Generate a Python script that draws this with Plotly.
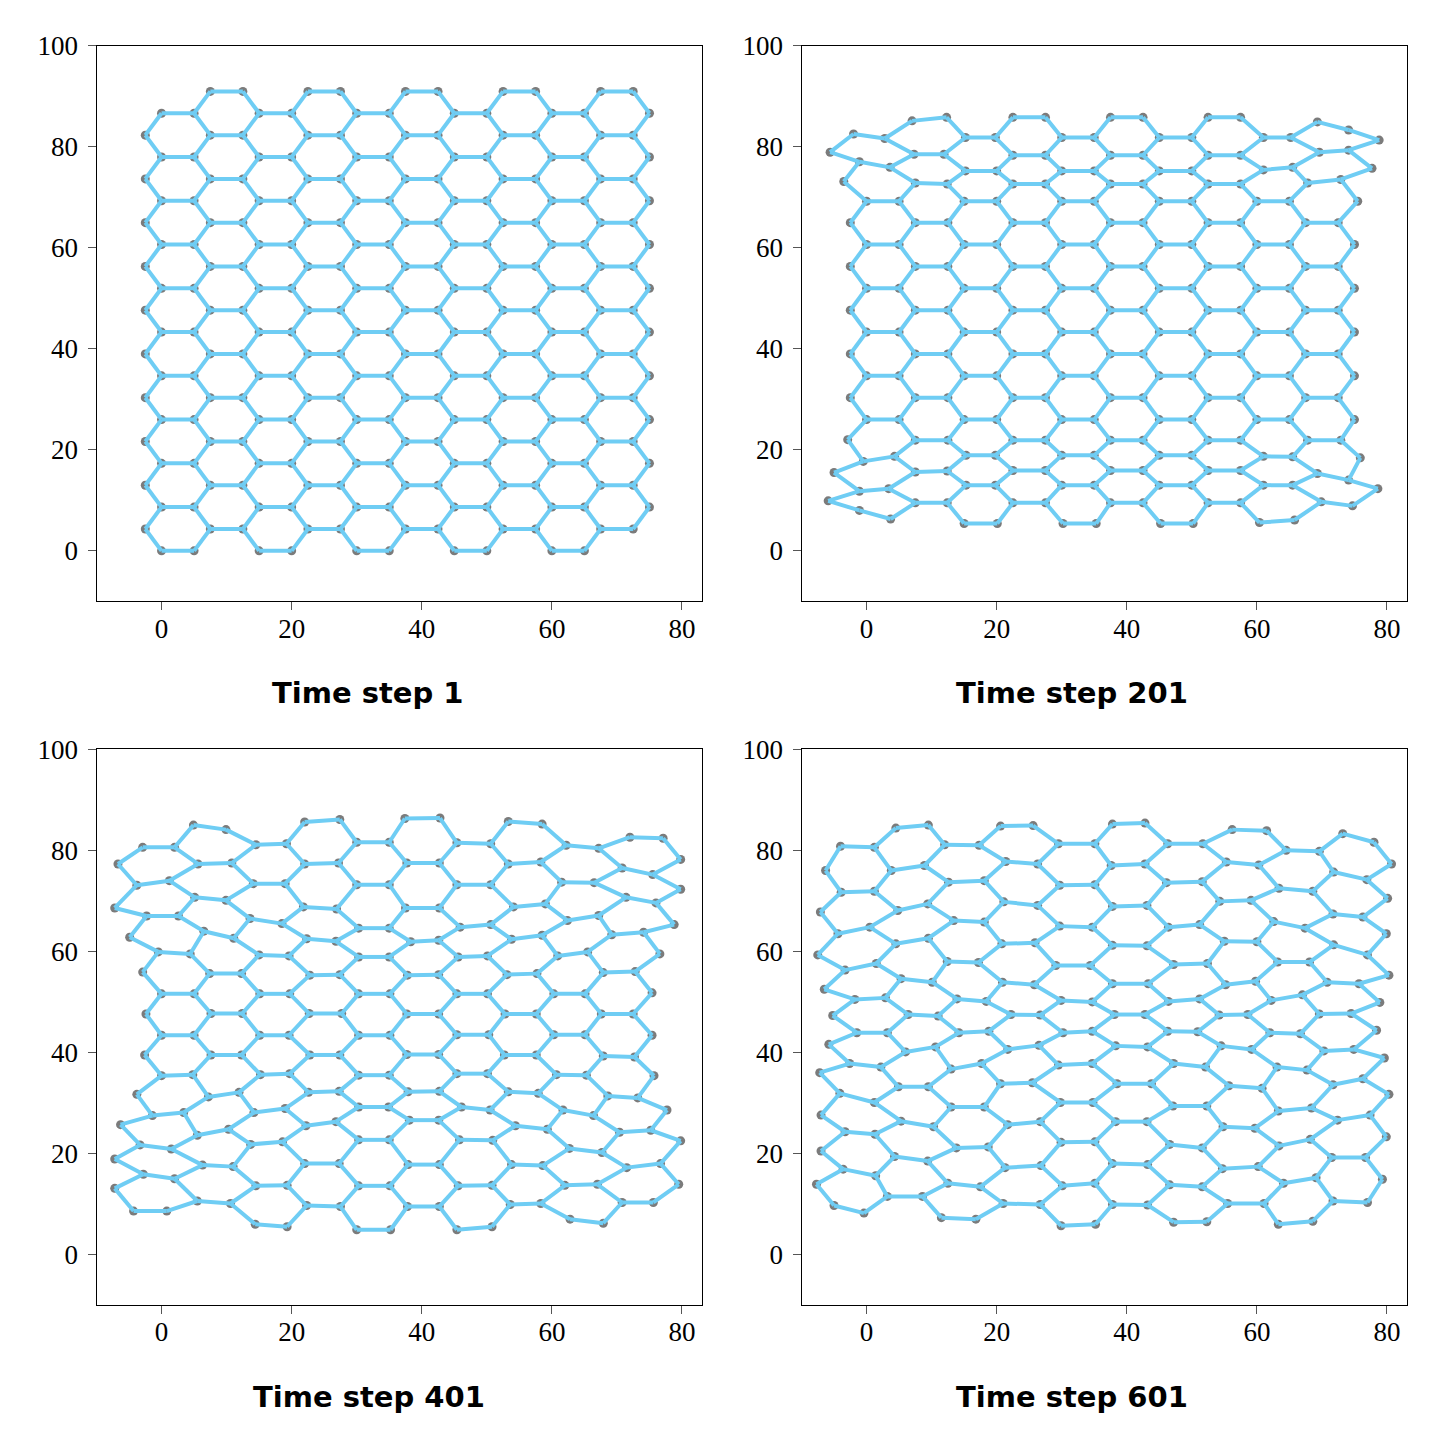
import plotly.graph_objects as go

# graphene sheet snapshots
# each panel: 22 rows (k = 0..21) of 11 atoms; even rows use the EVEN_X columns,
# odd rows the ODD_X columns. None = no atom at that site.

EVEN_X = [0, 5, 15, 20, 30, 35, 45, 50, 60, 65, 75]
ODD_X = [-2.5, 7.5, 12.5, 22.5, 27.5, 37.5, 42.5, 52.5, 57.5, 67.5, 72.5]
ROW_Y = [0.0, 4.33, 8.66, 12.99, 17.32, 21.65, 25.98, 30.31, 34.64, 38.97, 43.30,
         47.63, 51.96, 56.29, 60.62, 64.95, 69.28, 73.61, 77.94, 82.27, 86.60, 90.93]
MISSING = [(0, 10), (21, 0)]  # (row, column) sites that are empty at the sheet edges

STEPS = ["Time step 1", "Time step 201", "Time step 401", "Time step 601"]

# time step 1: perfect lattice
x_t1 = [EVEN_X if k % 2 == 0 else ODD_X for k in range(22)]
y_t1 = [[y] * 11 for y in ROW_Y]

# time step 201: edges start to curl
x_t201 = [
    [-1.1, 3.7, 15.0, 20.1, 30.2, 35.3, 45.2, 50.2, 60.4, 65.8, None],
    [-5.9, 7.5, 12.4, 22.5, 27.5, 37.5, 42.5, 52.5, 57.5, 69.9, 74.7],
    [-1.1, 3.4, 15.3, 19.8, 30.0, 35.0, 45.0, 50.0, 61.0, 65.5, 78.6],
    [-5.0, 7.5, 12.4, 22.5, 27.5, 37.5, 42.5, 52.5, 57.5, 69.3, 74.1],
    [-0.5, 4.3, 15.3, 19.8, 30.0, 35.0, 45.0, 50.0, 61.0, 65.5, 75.9],
    [-2.9, 7.5, 12.5, 22.5, 27.5, 37.5, 42.5, 52.5, 57.5, 67.8, 72.9],
    EVEN_X, ODD_X, EVEN_X, ODD_X, EVEN_X, ODD_X, EVEN_X, ODD_X, EVEN_X, ODD_X,
    [0, 5, 15, 20, 30, 35, 45, 50, 60, 65, 75.5],
    [-3.5, 7.5, 12.4, 22.5, 27.5, 37.5, 42.5, 52.5, 57.5, 67.8, 72.9],
    [-1.1, 3.6, 15.2, 20.0, 30.0, 35.0, 45.0, 50.0, 61.0, 65.5, 77.7],
    [-5.6, 7.3, 11.9, 22.5, 27.5, 37.5, 42.5, 52.5, 57.5, 69.6, 74.1],
    [-2.0, 2.8, 15.2, 19.8, 30.0, 35.0, 45.0, 50.0, 61.0, 65.2, 78.8],
    [None, 7.0, 12.3, 22.5, 27.5, 37.5, 42.5, 52.5, 57.5, 69.3, 74.1],
]
y_t201 = [
    [8.0, 6.3, 5.4, 5.4, 5.4, 5.4, 5.4, 5.4, 5.6, 6.1, None],
    [9.9, 9.5, 9.5, 9.5, 9.5, 9.5, 9.5, 9.5, 9.5, 9.7, 8.9],
    [11.8, 12.3, 13.0, 13.0, 13.0, 13.0, 13.0, 13.0, 13.0, 13.0, 12.3],
    [15.5, 15.6, 15.8, 15.9, 15.9, 15.9, 15.9, 15.9, 15.9, 15.3, 14.0],
    [17.7, 18.7, 18.9, 18.9, 18.9, 18.9, 18.9, 18.9, 18.7, 18.6, 18.4],
    [22.0, 21.9, 21.9, 21.9, 21.9, 21.9, 21.9, 21.9, 21.9, 21.9, 21.9],
    [25.98] * 11, [30.31] * 11, [34.64] * 11, [38.97] * 11, [43.30] * 11,
    [47.63] * 11, [51.96] * 11, [56.29] * 11, [60.62] * 11, [64.95] * 11,
    [69.2] * 11,
    [73.1, 72.8, 72.6, 72.6, 72.6, 72.6, 72.6, 72.6, 72.6, 72.8, 73.5],
    [77.0, 75.9, 75.2, 75.2, 75.2, 75.2, 75.2, 75.2, 75.4, 75.9, 75.7],
    [78.9, 78.5, 78.5, 78.3, 78.3, 78.3, 78.3, 78.3, 78.3, 78.9, 79.3],
    [82.5, 81.6, 81.8, 81.8, 81.8, 81.8, 81.8, 81.8, 81.8, 81.8, 81.3],
    [None, 85.1, 85.8, 85.8, 85.8, 85.8, 85.8, 85.8, 85.8, 84.9, 83.3],
]

# time step 401
x_t401 = [
    [-4.3, 0.8, 14.4, 19.3, 30.0, 35.2, 45.4, 50.8, 62.8, 67.9, None],
    [-7.2, 5.5, 10.6, 22.3, 27.5, 37.8, 42.7, 53.6, 58.3, 70.8, 75.6],
    [-2.8, 2.0, 14.5, 19.3, 30.3, 35.1, 45.6, 50.8, 62.0, 67.0, 79.5],
    [-7.2, 6.3, 11.0, 22.0, 27.3, 37.9, 42.7, 53.8, 58.6, 71.5, 76.7],
    [-3.3, 1.5, 13.7, 18.6, 30.3, 35.0, 45.8, 50.9, 62.7, 67.7, 79.8],
    [-6.3, 5.5, 10.3, 22.2, 26.8, 38.1, 42.6, 54.4, 59.3, 70.4, 75.2],
    [-1.4, 3.4, 14.2, 19.0, 30.3, 34.9, 46.1, 50.5, 61.7, 66.4, 77.7],
    [-3.8, 7.2, 11.9, 22.6, 27.3, 37.9, 42.7, 53.3, 57.9, 68.6, 73.2],
    [0.0, 4.8, 15.2, 19.7, 30.3, 35.0, 45.4, 50.1, 60.7, 65.3, 75.7],
    [-2.6, 7.6, 12.3, 22.8, 27.4, 37.7, 42.6, 52.7, 57.6, 67.9, 72.7],
    [0.0, 5.0, 15.1, 19.6, 30.3, 35.1, 45.4, 50.3, 60.3, 65.1, 75.4],
    [-2.4, 7.6, 12.4, 22.7, 27.7, 37.7, 42.6, 52.8, 57.6, 67.6, 72.5],
    [0.0, 5.0, 15.1, 19.7, 30.3, 35.1, 45.4, 50.1, 60.3, 65.1, 75.4],
    [-2.9, 7.4, 12.3, 22.8, 27.4, 37.8, 42.6, 53.1, 57.7, 67.9, 72.8],
    [-0.5, 4.4, 15.0, 19.6, 30.3, 35.0, 45.6, 50.1, 60.9, 65.5, 76.6],
    [-4.9, 6.5, 11.1, 22.3, 26.8, 38.3, 42.6, 53.8, 58.5, 69.2, 74.1],
    [-2.3, 2.6, 13.6, 18.5, 30.3, 35.0, 45.9, 50.6, 62.4, 67.2, 78.8],
    [-7.2, 5.1, 9.9, 21.8, 26.9, 37.5, 42.7, 54.1, 59.0, 71.4, 76.0],
    [-3.8, 1.2, 14.1, 19.0, 30.0, 35.0, 45.4, 50.6, 61.5, 66.5, 79.8],
    [-6.7, 5.6, 10.8, 22.0, 27.2, 37.7, 42.7, 53.3, 58.3, 70.8, 75.5],
    [-2.9, 2.0, 14.5, 19.2, 30.0, 35.0, 45.4, 50.6, 62.2, 67.2, 79.8],
    [None, 4.9, 9.9, 22.0, 27.4, 37.4, 42.8, 53.3, 58.5, 72.0, 77.1],
]
y_t401 = [
    [8.6, 8.6, 6.0, 5.5, 4.9, 4.9, 4.9, 5.5, 7.0, 6.2, None],
    [13.1, 10.6, 10.1, 9.7, 9.5, 9.5, 9.5, 9.9, 10.1, 10.3, 10.3],
    [15.9, 15.0, 13.6, 13.7, 13.6, 13.6, 13.6, 13.7, 13.7, 13.9, 13.9],
    [18.9, 17.7, 17.4, 18.0, 18.0, 17.8, 17.8, 17.8, 17.6, 17.2, 18.0],
    [21.7, 20.9, 21.8, 22.3, 22.7, 22.7, 22.7, 22.6, 21.0, 20.2, 22.5],
    [25.7, 23.6, 24.8, 25.5, 26.3, 26.6, 26.6, 25.5, 24.8, 24.2, 24.6],
    [27.5, 28.1, 28.1, 28.9, 29.2, 29.2, 29.2, 28.6, 28.6, 27.5, 28.6],
    [31.7, 31.2, 32.1, 32.1, 32.3, 32.2, 32.3, 32.2, 31.9, 31.4, 31.0],
    [35.4, 35.6, 35.6, 35.8, 35.5, 35.5, 35.8, 35.8, 35.6, 35.5, 35.4],
    [39.5, 39.5, 39.5, 39.5, 39.5, 39.6, 39.6, 39.5, 39.5, 39.3, 39.1],
    [43.4, 43.4, 43.4, 43.4, 43.4, 43.4, 43.5, 43.5, 43.5, 43.5, 43.4],
    [47.6, 47.7, 47.7, 47.7, 47.7, 47.6, 47.6, 47.6, 47.6, 47.6, 47.6],
    [51.6, 51.6, 51.6, 51.6, 51.6, 51.6, 51.6, 51.6, 51.6, 51.6, 51.8],
    [55.9, 55.6, 55.6, 55.3, 55.4, 55.3, 55.4, 55.4, 55.6, 55.8, 56.0],
    [59.9, 59.5, 59.3, 59.1, 58.9, 58.9, 58.9, 59.1, 59.1, 59.9, 59.5],
    [62.8, 64.0, 62.6, 62.5, 62.0, 61.9, 62.2, 62.4, 63.2, 63.3, 63.8],
    [67.0, 67.0, 66.5, 65.5, 64.6, 64.6, 64.8, 65.3, 66.1, 67.1, 65.3],
    [68.6, 70.7, 70.1, 68.8, 68.4, 68.6, 68.6, 68.8, 69.4, 70.7, 69.6],
    [73.1, 74.0, 73.4, 73.4, 73.2, 73.2, 73.2, 73.2, 73.7, 73.6, 72.3],
    [77.3, 77.3, 77.5, 77.3, 77.5, 77.5, 77.5, 77.3, 77.7, 76.5, 75.2],
    [80.6, 80.6, 81.1, 81.3, 81.6, 81.6, 81.5, 81.3, 81.0, 80.4, 78.2],
    [None, 85.0, 84.1, 85.6, 86.1, 86.3, 86.4, 85.7, 85.2, 82.6, 82.4],
]

# time step 601
x_t601 = [
    [-5.0, -0.4, 11.5, 16.8, 29.9, 35.2, 47.2, 52.3, 63.3, 68.6, None],
    [-7.7, 3.2, 8.6, 21.0, 26.7, 37.8, 43.2, 55.5, 61.1, 71.7, 77.0],
    [-3.6, 1.4, 12.5, 17.5, 30.1, 35.1, 46.6, 51.6, 64.1, 69.1, 79.3],
    [-7.0, 4.3, 9.4, 21.3, 26.8, 37.8, 43.2, 54.7, 60.2, 71.5, 76.7],
    [-3.3, 1.3, 13.8, 18.7, 29.9, 35.1, 46.6, 51.6, 63.4, 68.2, 79.9],
    [-7.0, 5.3, 10.3, 21.7, 26.7, 38.3, 43.1, 54.8, 59.7, 72.4, 77.4],
    [-4.1, 1.2, 13.0, 18.1, 29.8, 34.8, 47.1, 52.3, 63.3, 68.4, 80.3],
    [-7.2, 4.9, 9.5, 20.6, 25.5, 38.5, 43.8, 55.7, 60.8, 71.7, 76.3],
    [-2.6, 2.2, 13.0, 17.7, 29.5, 34.7, 47.2, 52.1, 63.1, 67.7, 79.6],
    [-5.8, 6.0, 10.6, 21.7, 26.5, 38.3, 43.2, 54.5, 59.2, 70.3, 74.9],
    [-1.5, 3.2, 14.2, 18.8, 30.2, 34.7, 46.3, 50.9, 62.0, 66.7, 78.4],
    [-5.2, 6.4, 11.0, 22.2, 26.7, 38.1, 42.8, 54.2, 58.6, 69.6, 74.5],
    [-1.8, 2.9, 13.9, 18.4, 29.9, 34.7, 46.4, 51.2, 62.2, 67.0, 78.9],
    [-6.5, 5.3, 10.1, 20.9, 25.8, 37.8, 43.3, 55.2, 59.8, 70.8, 75.7],
    [-3.3, 1.5, 12.4, 17.2, 29.1, 34.4, 47.2, 52.4, 63.2, 68.1, 80.3],
    [-7.5, 4.5, 9.5, 20.8, 25.9, 37.8, 43.1, 55.0, 60.0, 71.8, 77.0],
    [-4.4, 0.5, 13.4, 18.1, 29.7, 34.7, 46.4, 51.2, 62.6, 67.4, 79.9],
    [-7.1, 4.8, 9.4, 21.1, 26.3, 37.8, 43.1, 54.3, 59.1, 71.7, 76.3],
    [-3.9, 1.2, 12.6, 18.1, 29.7, 35.1, 46.1, 51.6, 63.4, 68.6, 80.1],
    [-6.3, 3.8, 8.9, 21.4, 26.3, 37.6, 42.8, 55.3, 60.3, 71.8, 76.9],
    [-4.0, 1.2, 12.0, 17.3, 29.5, 35.1, 46.3, 51.7, 64.5, 69.6, 80.7],
    [None, 4.5, 9.5, 20.6, 25.6, 37.8, 42.8, 56.2, 61.5, 73.2, 78.0],
]
y_t601 = [
    [9.7, 8.2, 7.3, 7.0, 5.7, 6.0, 6.4, 6.5, 6.0, 6.6, None],
    [13.9, 11.5, 11.5, 10.1, 9.9, 9.9, 9.8, 10.1, 10.1, 10.6, 10.3],
    [16.9, 15.6, 14.1, 13.4, 13.6, 14.1, 13.8, 13.4, 14.1, 15.2, 14.9],
    [20.5, 19.4, 18.5, 17.2, 17.6, 18.0, 17.8, 17.0, 17.4, 19.2, 19.2],
    [24.3, 23.8, 21.1, 21.3, 22.2, 22.3, 21.8, 21.1, 21.5, 22.8, 23.3],
    [27.6, 26.4, 25.3, 25.7, 26.3, 26.3, 26.3, 25.3, 25.0, 26.6, 27.6],
    [31.9, 30.1, 29.2, 29.2, 30.1, 30.1, 29.4, 29.4, 28.4, 29.0, 31.7],
    [36.0, 33.2, 33.2, 33.8, 34.0, 33.8, 33.8, 33.4, 32.9, 33.6, 34.8],
    [37.8, 37.1, 36.7, 37.8, 37.5, 37.8, 37.8, 37.1, 37.1, 36.5, 38.9],
    [41.6, 40.1, 41.1, 40.6, 41.4, 41.3, 41.1, 41.3, 40.6, 40.3, 40.6],
    [43.9, 43.9, 43.9, 44.2, 43.9, 44.2, 44.2, 44.1, 43.9, 43.7, 44.4],
    [47.3, 47.5, 47.2, 47.5, 47.4, 47.5, 47.5, 47.4, 47.5, 47.6, 47.7],
    [50.5, 50.8, 50.6, 50.1, 50.3, 50.0, 50.1, 50.6, 50.3, 51.4, 49.9],
    [52.5, 54.6, 53.9, 53.9, 53.4, 53.6, 53.6, 53.4, 54.1, 53.9, 53.6],
    [56.3, 57.6, 58.0, 57.8, 57.2, 57.2, 57.4, 57.6, 57.9, 57.9, 55.3],
    [59.3, 61.5, 62.6, 61.5, 61.7, 61.2, 61.1, 62.0, 61.9, 61.3, 59.3],
    [63.5, 64.8, 66.1, 65.8, 65.0, 64.8, 64.8, 65.3, 65.9, 64.6, 63.5],
    [67.8, 68.1, 69.4, 69.8, 69.1, 68.9, 69.1, 69.9, 70.1, 67.4, 66.8],
    [71.7, 71.9, 73.7, 74.0, 73.1, 73.2, 73.6, 73.8, 72.5, 71.9, 70.5],
    [76.0, 76.0, 77.0, 77.8, 77.3, 77.0, 77.3, 77.7, 77.1, 75.7, 74.2],
    [80.8, 80.6, 81.1, 81.0, 81.3, 81.3, 81.3, 81.3, 80.0, 79.8, 77.3],
    [None, 84.4, 85.0, 84.8, 84.9, 85.2, 85.4, 84.1, 83.9, 83.3, 81.6],
]

PANELS = [(x_t1, y_t1), (x_t201, y_t201), (x_t401, y_t401), (x_t601, y_t601)]

BOND_COLOR = "#6fcdf4"
ATOM_COLOR = "#7b7b7b"


def atom(xs, ys, k, j):
    if (k, j) in MISSING:
        return None
    if xs[k][j] is None or ys[k][j] is None:
        return None
    return xs[k][j], ys[k][j]


def bonds(xs, ys):
    # horizontal bonds pair columns (0,1),(2,3).. on even rows and (1,2),(3,4).. on odd rows,
    # the slanted bonds join the same column in neighbouring rows
    bx, by = [], []
    for k in range(22):
        for j in range(11):
            a = atom(xs, ys, k, j)
            if a is None:
                continue
            nbrs = []
            if j % 2 == k % 2 and j + 1 < 11:
                nbrs.append((k, j + 1))
            if k + 1 < 22:
                nbrs.append((k + 1, j))
            for kk, jj in nbrs:
                b = atom(xs, ys, kk, jj)
                if b is None:
                    continue
                bx += [a[0], b[0], None]
                by += [a[1], b[1], None]
    return bx, by


def atoms(xs, ys):
    ax, ay = [], []
    for k in range(22):
        for j in range(11):
            a = atom(xs, ys, k, j)
            if a is not None:
                ax.append(a[0])
                ay.append(a[1])
    return ax, ay


# page pixel -> paper fraction (small correction for the page offset seen in the render)
def fx(px):
    return (px - 7.5) / 1440


def fy(py):
    return 1 - ((py - 20.4) / 0.99) / 1440


fig = go.Figure()

x_dom = [[fx(96), fx(701)], [fx(801), fx(1406)]]
y_dom = [[fy(599), fy(43)], [fy(1303), fy(747)]]
title_pos = [(367, 691), (1071, 691), (368, 1395), (1071, 1395)]

tick_font = dict(family="Liberation Serif, DejaVu Serif, serif", size=27, color="black")

for i, (xs, ys) in enumerate(PANELS):
    n = i + 1
    xa = "x" if n == 1 else "x%d" % n
    ya = "y" if n == 1 else "y%d" % n

    ax, ay = atoms(xs, ys)
    fig.add_trace(go.Scatter(x=ax, y=ay, mode="markers", xaxis=xa, yaxis=ya,
                             marker=dict(size=9, color=ATOM_COLOR), hoverinfo="skip"))
    bx, by = bonds(xs, ys)
    fig.add_trace(go.Scatter(x=bx, y=by, mode="lines", xaxis=xa, yaxis=ya,
                             line=dict(color=BOND_COLOR, width=4), hoverinfo="skip"))

    axis_common = dict(showgrid=False, zeroline=False, showline=True, mirror=True,
                       linecolor="black", linewidth=1, ticks="outside", ticklen=8,
                       tickwidth=1, tickcolor="#555555", tickfont=tick_font)
    fig.layout["xaxis" if n == 1 else "xaxis%d" % n] = dict(
        domain=x_dom[i % 2], range=[-10, 83], tickvals=[0, 20, 40, 60, 80],
        anchor=ya, ticklabelstandoff=-5, **axis_common)
    fig.layout["yaxis" if n == 1 else "yaxis%d" % n] = dict(
        domain=y_dom[i // 2], range=[-10, 100], tickvals=[0, 20, 40, 60, 80, 100],
        anchor=xa, ticklabelstandoff=4, **axis_common)

    px, py = title_pos[i]
    fig.add_annotation(text="<b>%s</b>" % STEPS[i], xref="paper", yref="paper",
                       x=fx(px), y=fy(py), showarrow=False,
                       xanchor="center", yanchor="middle",
                       font=dict(family="DejaVu Sans, Verdana, sans-serif", size=29, color="black"))

fig.update_layout(width=1440, height=1440, showlegend=False,
                  margin=dict(l=0, r=0, t=0, b=0),
                  paper_bgcolor="white", plot_bgcolor="white")

fig.write_html("out.html")
